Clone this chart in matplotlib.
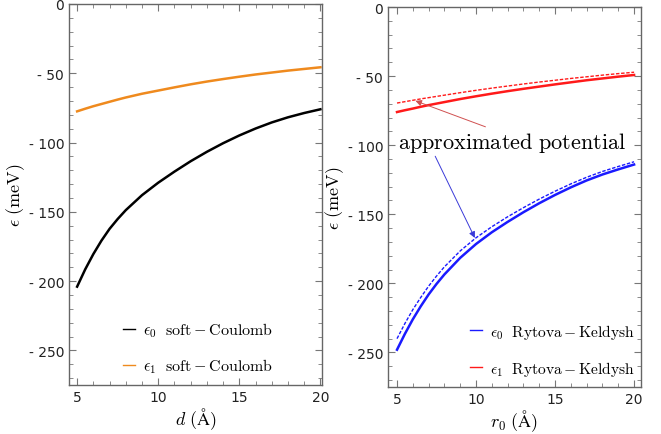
import numpy as np
import matplotlib.pyplot as plt
from matplotlib.ticker import MultipleLocator, FuncFormatter
from matplotlib.lines import Line2D

plt.rcParams['mathtext.fontset'] = 'cm'

# data
d = [5, 5.5, 6, 6.5, 7, 7.5, 8, 9, 10, 11, 12, 13, 14, 15, 16, 17, 18, 19, 20]
e0_soft = [-204, -191.5, -180.5, -170.8, -162.3, -155.2, -148.8, -138, -129, -121, -113.5,
           -106.7, -100.5, -94.9, -89.9, -85.5, -81.8, -78.7, -76]
e1_soft = [-77.5, -75.6, -73.8, -72.2, -70.6, -69, -67.5, -64.8, -62.5, -60.2, -58,
           -56, -54.2, -52.5, -50.9, -49.5, -48.1, -46.9, -45.7]

r0 = [5, 5.5, 6, 6.5, 7, 7.5, 8, 9, 10, 11, 12, 13, 14, 15, 16, 17, 18, 19, 20]
e0_rk = [-248, -236.5, -226, -216.6, -208, -200.4, -193.5, -181.5, -171.5, -163, -155.5,
         -148.5, -142, -136, -130.5, -125.5, -121.2, -117.5, -114]
e0_rk_approx = [-240, -229, -219, -210.2, -202, -194.7, -188, -176.5, -167, -159, -151.8,
                -145.2, -139, -133.3, -128, -123.2, -119, -115.4, -112]
e1_rk = [-76, -74.7, -73.5, -72.2, -71, -69.9, -68.8, -66.6, -64.6, -62.7, -60.9,
         -59.2, -57.6, -56, -54.5, -53, -51.7, -50.4, -49.2]
e1_rk_approx = [-69.5, -68.5, -67.5, -66.5, -65.6, -64.7, -63.8, -62, -60.3, -58.7, -57.2,
                -55.7, -54.3, -53, -51.7, -50.5, -49.3, -48.2, -47.2]

orange = '#ef8a1e'
blue = '#1a1aff'
red = '#ff1a1a'

fig = plt.figure(figsize=(6.61, 4.35), dpi=100)
ax1 = fig.add_axes([0.1044, 0.1126, 0.3828, 0.876])
ax2 = fig.add_axes([0.587, 0.108, 0.3828, 0.8736])


def fmt(v, pos):
    if v == 0:
        return '0'
    return '- %g' % abs(v)


for ax in (ax1, ax2):
    ax.set_ylim(-275, 0)
    ax.xaxis.set_major_locator(MultipleLocator(5))
    ax.xaxis.set_minor_locator(MultipleLocator(1))
    ax.yaxis.set_major_locator(MultipleLocator(50))
    ax.yaxis.set_minor_locator(MultipleLocator(10))
    ax.yaxis.set_major_formatter(FuncFormatter(fmt))
    ax.tick_params(which='both', direction='in', top=True, right=True,
                   color='#777777', labelsize=10, labelcolor='#222222')
    ax.tick_params(which='major', length=5, width=0.8)
    ax.tick_params(which='minor', length=3, width=0.6)
    for s in ax.spines.values():
        s.set_color('#666666')
        s.set_linewidth(1.0)
    ax.set_ylabel(r'$\epsilon\ \mathrm{(meV)}$', fontsize=13, labelpad=1)

ax1.set_xlim(4.5, 20.1)
ax2.set_xlim(4.43, 20.44)

# left panel: soft-Coulomb
ax1.plot(d, e0_soft, color='black', lw=1.8)
ax1.plot(d, e1_soft, color=orange, lw=1.8)
ax1.set_xlabel(r'$d\ \mathrm{(\AA)}$', fontsize=13, labelpad=1)
h1 = [Line2D([], [], color='black', lw=1.0), Line2D([], [], color=orange, lw=1.0)]
ax1.legend(h1, [r'$\epsilon_0\ \ \mathrm{soft}-\mathrm{Coulomb}$',
                r'$\epsilon_1\ \ \mathrm{soft}-\mathrm{Coulomb}$'],
           loc='lower left', bbox_to_anchor=(0.155, -0.012), frameon=False,
           fontsize=11.5, handlelength=0.75, handletextpad=0.5, labelspacing=1.1)

# right panel: Rytova-Keldysh
ax2.plot(r0, e0_rk, color=blue, lw=1.8)
ax2.plot(r0, e0_rk_approx, color=blue, lw=1.0, ls=(0, (2.5, 1.2)))
ax2.plot(r0, e1_rk, color=red, lw=1.8)
ax2.plot(r0, e1_rk_approx, color=red, lw=1.0, ls=(0, (2.5, 1.2)))
ax2.set_xlabel(r'$r_0\ \mathrm{(\AA)}$', fontsize=13, labelpad=1)
h2 = [Line2D([], [], color=blue, lw=1.0), Line2D([], [], color=red, lw=1.0)]
ax2.legend(h2, [r'$\epsilon_0\ \ \mathrm{Rytova}-\mathrm{Keldysh}$',
                r'$\epsilon_1\ \ \mathrm{Rytova}-\mathrm{Keldysh}$'],
           loc='lower left', bbox_to_anchor=(0.27, -0.012), frameon=False,
           fontsize=11.2, handlelength=0.75, handletextpad=0.5, labelspacing=1.15)

ax2.text(12.3, -97.5, r'$\mathrm{approximated\ potential}$', fontsize=16,
         ha='center', va='center')
ax2.annotate('', xy=(6.0, -67.2), xytext=(10.76, -87.4),
             arrowprops=dict(arrowstyle='-|>', color='#d05050', lw=0.7,
                             mutation_scale=9))
ax2.annotate('', xy=(10.0, -168.9), xytext=(7.34, -106.2),
             arrowprops=dict(arrowstyle='-|>', color='#3a3ad8', lw=0.7,
                             mutation_scale=9))

fig.savefig('out.png', dpi=100)
